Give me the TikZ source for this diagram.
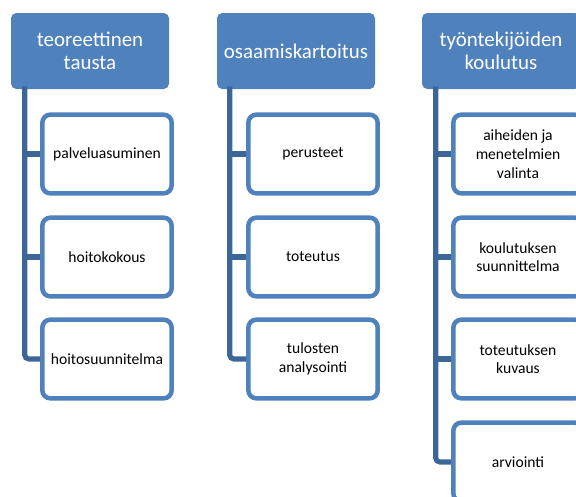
\documentclass[tikz,border=0pt]{standalone}
\usepackage{fontspec}
\setmainfont{Carlito}
\usepackage{tikz}
\usetikzlibrary{calc}

\definecolor{hdrblue}{RGB}{79,129,189}
\definecolor{barblue}{RGB}{60,102,152}

\begin{document}
\begin{tikzpicture}[
    x=0.75pt, y=-0.75pt,
    header/.style={
        rectangle, fill=hdrblue, rounded corners=4pt,
        minimum width=118.5pt, minimum height=57pt,
        align=center, text=white, font=\fontsize{15.7}{17}\selectfont
    },
    item/.style={
        rectangle, draw=hdrblue, fill=white, line width=3.4pt, rounded corners=6pt,
        minimum width=97pt, minimum height=59pt,
        align=center, font=\fontsize{11.7}{14}\selectfont
    },
    bar/.style={draw=barblue, line width=3.8pt, rounded corners=3pt}
]
\useasboundingbox (0,0) rectangle (576,497);

% otsikot
\node[header] (h1) at (90, 51) {teoreettinen\\tausta};
\node[header] (h2) at (296, 51) {osaamiskartoitus};
\node[header] (h3) at (501, 51) {työntekijöiden\\koulutus};

% teoreettinen tausta
\node[item] (t1) at (107, 154) {palveluasuminen};
\node[item] (t2) at (107, 257) {hoitokokous};
\node[item] (t3) at (107, 359) {hoitosuunnitelma};

% osaamiskartoitus
\node[item] (o1) at (313, 154) {perusteet};
\node[item] (o2) at (313, 257) {toteutus};
\node[item] (o3) at (313, 359) {tulosten\\analysointi};

% koulutus
\node[item] (k1) at (518, 154) {aiheiden ja\\menetelmien\\valinta};
\node[item] (k2) at (518, 257) {koulutuksen\\suunnittelma};
\node[item] (k3) at (518, 359) {toteutuksen\\kuvaus};
\node[item] (k4) at (518, 462) {arviointi};

% pystypalkit
\coordinate (b1) at ($(h1.south west)+(14,-3)$);
\coordinate (b2) at ($(h2.south west)+(13,-3)$);
\coordinate (b3) at ($(h3.south west)+(14,-3)$);

\draw[bar] (b1) |- (t3.west);
\draw[bar, rounded corners=0pt] (b1 |- t1.west) -- (t1.west);
\draw[bar, rounded corners=0pt] (b1 |- t2.west) -- (t2.west);

\draw[bar] (b2) |- (o3.west);
\draw[bar, rounded corners=0pt] (b2 |- o1.west) -- (o1.west);
\draw[bar, rounded corners=0pt] (b2 |- o2.west) -- (o2.west);

\draw[bar] (b3) |- (k4.west);
\draw[bar, rounded corners=0pt] (b3 |- k1.west) -- (k1.west);
\draw[bar, rounded corners=0pt] (b3 |- k2.west) -- (k2.west);
\draw[bar, rounded corners=0pt] (b3 |- k3.west) -- (k3.west);
\end{tikzpicture}
\end{document}
